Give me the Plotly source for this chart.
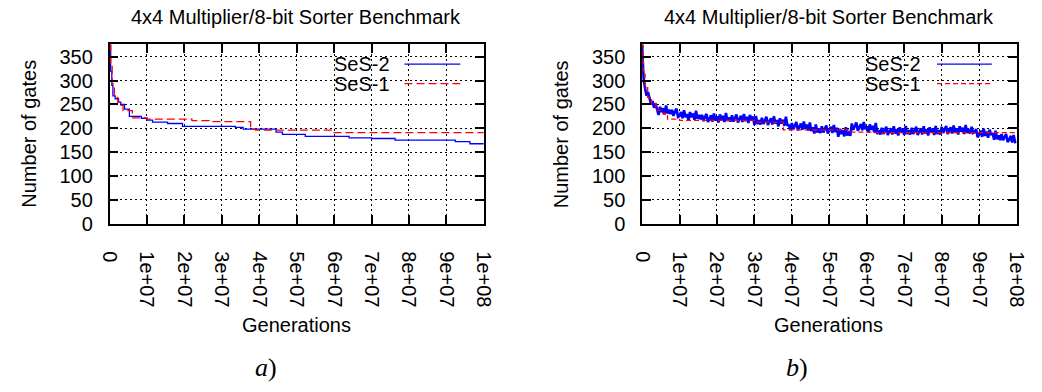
import plotly.graph_objects as go

W, H = 1042, 392

# ---------------- data ----------------
# (a) best-so-far gate count, step curves (generation where value changes)
gens_a_ses2 = [0, 0.3e6, 0.6e6, 0.9e6, 1.5e6, 2.4e6, 3.0e6, 4.0e6, 5.3e6, 8.5e6,
               10e6, 11.5e6, 15.5e6, 19.5e6, 33.6e6, 35.7e6, 44.5e6, 46.2e6,
               52.3e6, 64e6, 70e6, 76.3e6, 92.4e6, 96.3e6, 100e6]
gates_a_ses2 = [376, 320, 290, 268, 262, 255, 250, 240, 225, 221,
                217, 213, 210, 204, 202, 198, 192, 187,
                183, 180, 178.5, 175, 172, 167.5, 167]

gens_a_ses1 = [0, 0.3e6, 0.7e6, 1.3e6, 2.2e6, 3.0e6, 3.6e6, 6.1e6, 10e6, 22e6,
               26.6e6, 37.7e6, 39e6, 59.7e6, 100e6]
gates_a_ses1 = [376, 330, 293, 265, 255, 248, 237, 222, 219, 216,
                214, 198, 196, 191, 191]

# (b) SeS-2 gate count, logged every STEP_B generations
STEP_B = 4e5
gates_b_ses2 = [
    376, 305, 284, 268, 276,
    262, 250, 257, 243, 252,
    241, 228, 245, 234, 242, 229, 248, 231, 239, 230,
    239, 226, 235, 241, 224, 226, 234, 221, 238, 223,
    230, 217, 234, 223, 231, 218, 237, 220, 228, 219,
    228, 215, 224, 230, 213, 219, 227, 214, 231, 216,
    225, 212, 229, 218, 226, 213, 232, 215, 223, 214,
    227, 214, 223, 229, 212, 218, 226, 213, 230, 215,
    224, 211, 228, 217, 225,
    207, 226, 209, 217, 208, 222, 209, 218, 224, 207,
    213, 221, 208, 225, 210,
    217, 204, 221, 210, 218, 205, 224, 207,
    206, 197, 211, 198, 207, 213, 196, 202, 210, 197,
    214, 199, 208, 195, 212,
    194, 202, 189, 208, 191, 199, 190, 204, 191, 200,
    206, 189, 195, 203, 190, 207, 192, 201,
    182, 199, 188, 196, 183, 202, 185, 193, 184,
    210, 197, 206, 212, 195, 201, 209, 196, 213, 198,
    204, 191, 208, 197, 205, 192, 211,
    188, 196, 187, 201, 188, 197, 203, 186, 192, 200,
    187, 204, 189, 198, 185, 202, 191, 199, 186, 205,
    188, 196, 187, 201, 188, 197, 203, 186, 192, 200,
    187, 204, 189, 198, 185, 202, 191, 199, 186, 205,
    188, 196, 187,
    203, 190, 199, 205, 188, 194, 202, 189, 206, 191,
    200, 187, 204, 193, 201, 188, 207, 190, 198, 189,
    203, 190,
    192, 198, 181, 187, 195, 182, 199, 184, 193, 180,
    197, 186,
    190, 176, 195, 177, 185, 175, 188, 175, 183, 188,
    171, 176, 184, 170, 186, 171,
    172,
]
gens_b_ses2 = [i * STEP_B for i in range(len(gates_b_ses2))]

gens_b_ses1 = [0, 0.3e6, 0.8e6, 1.5e6, 2.5e6, 3.7e6, 5.5e6, 6.8e6, 10e6, 30e6,
               37.7e6, 55e6, 62e6, 100e6]
gates_b_ses1 = [376, 320, 285, 265, 252, 238, 231, 219, 216.5, 213,
                196.5, 192, 190.7, 190.7]

x_tickvals = [0, 1e7, 2e7, 3e7, 4e7, 5e7, 6e7, 7e7, 8e7, 9e7, 1e8]
x_ticktext = ["0", "1e+07", "2e+07", "3e+07", "4e+07", "5e+07",
              "6e+07", "7e+07", "8e+07", "9e+07", "1e+08"]
y_tickvals = [0, 50, 100, 150, 200, 250, 300, 350]

title_text = "4x4 Multiplier/8-bit Sorter Benchmark"
series_names = ["SeS-2", "SeS-1"]
BLUE = "rgb(0,0,255)"
RED = "rgb(255,0,0)"

FONT = "Liberation Sans"
FS = 20


def px(x):
    return x / W


def py(y):
    return 1 - y / H


fig = go.Figure()

fig.add_trace(go.Scatter(x=gens_a_ses2, y=gates_a_ses2, mode="lines", line_shape="hv",
                         line=dict(color=BLUE, width=1.3), xaxis="x", yaxis="y",
                         showlegend=False))
fig.add_trace(go.Scatter(x=gens_a_ses1, y=gates_a_ses1, mode="lines", line_shape="hv",
                         line=dict(color=RED, width=1.3, dash="8px,4px"),
                         xaxis="x", yaxis="y", showlegend=False))
fig.add_trace(go.Scatter(x=gens_b_ses2, y=gates_b_ses2, mode="lines",
                         line=dict(color=BLUE, width=2.6), xaxis="x2", yaxis="y2",
                         showlegend=False))
fig.add_trace(go.Scatter(x=gens_b_ses1, y=gates_b_ses1, mode="lines", line_shape="hv",
                         line=dict(color=RED, width=1.3, dash="5px,3px"),
                         xaxis="x2", yaxis="y2", showlegend=False))

ydom = [py(230), py(45.7)]
panels = [
    dict(x0=101.7, x1=484.0, title_x=292.5, gen_x=292.5, lab_x=262, ylab_x=20,
         leg_text_x=390, leg_l0=403, leg_l1=460, dash="8px,4px", tag="<i>a</i>)"),
    dict(x0=645.7, x1=1028.3, title_x=836.7, gen_x=836, lab_x=804, ylab_x=563,
         leg_text_x=933, leg_l0=947, leg_l1=1003, dash="5px,3px", tag="<i>b</i>)"),
]

axis_common = dict(
    showline=True, linecolor="black", linewidth=1.5, mirror="ticks",
    ticks="inside", ticklen=9, tickwidth=1.5, tickcolor="black",
    showgrid=True, gridcolor="black", gridwidth=1, griddash="2px,3px",
    zeroline=False, tickfont=dict(family=FONT, size=FS, color="black"),
)

annotations = []
shapes = []
for i, p in enumerate(panels):
    sfx = "" if i == 0 else "2"
    fig.update_layout(**{
        "xaxis" + sfx: dict(axis_common, domain=[px(p["x0"]), px(p["x1"])],
                            anchor="y" + sfx, range=[0, 1e8],
                            tickvals=x_tickvals, ticktext=x_ticktext,
                            tickangle=90, ticklabelstandoff=22),
        "yaxis" + sfx: dict(axis_common, domain=ydom, anchor="x" + sfx,
                            range=[0, 376], tickvals=y_tickvals,
                            ticklabelstandoff=11),
    })
    annotations += [
        dict(text=title_text, x=px(p["title_x"]), y=py(17), xref="paper", yref="paper",
             showarrow=False, xanchor="center", yanchor="middle",
             font=dict(family=FONT, size=FS, color="black")),
        dict(text="Generations", x=px(p["gen_x"]), y=py(334), xref="paper", yref="paper",
             showarrow=False, xanchor="center", yanchor="middle",
             font=dict(family=FONT, size=FS, color="black")),
        dict(text="Number of gates", x=px(p["ylab_x"]), y=py(138), xref="paper",
             yref="paper", showarrow=False, textangle=-90, xanchor="center",
             yanchor="middle", font=dict(family=FONT, size=FS, color="black")),
        dict(text=p["tag"], x=px(p["lab_x"]), y=py(378), xref="paper", yref="paper",
             showarrow=False, xanchor="center", yanchor="middle",
             font=dict(family="Liberation Serif", size=26, color="black")),
    ]
    # key: label text followed by a line sample
    for name, ly, color, dash in [(series_names[0], 66, BLUE, "solid"),
                                  (series_names[1], 86, RED, p["dash"])]:
        annotations.append(dict(text=name, x=px(p["leg_text_x"]), y=py(ly), xref="paper",
                                yref="paper", showarrow=False, xanchor="right",
                                yanchor="middle",
                                font=dict(family=FONT, size=FS, color="black")))
        shapes.append(dict(type="line", xref="paper", yref="paper",
                           x0=px(p["leg_l0"]), x1=px(p["leg_l1"]), y0=py(ly), y1=py(ly),
                           line=dict(color=color, width=1.3, dash=dash)))

fig.update_layout(
    width=W, height=H, margin=dict(l=0, r=0, t=0, b=0),
    paper_bgcolor="white", plot_bgcolor="white",
    annotations=annotations, shapes=shapes, showlegend=False,
)

fig.write_html("out.html")
